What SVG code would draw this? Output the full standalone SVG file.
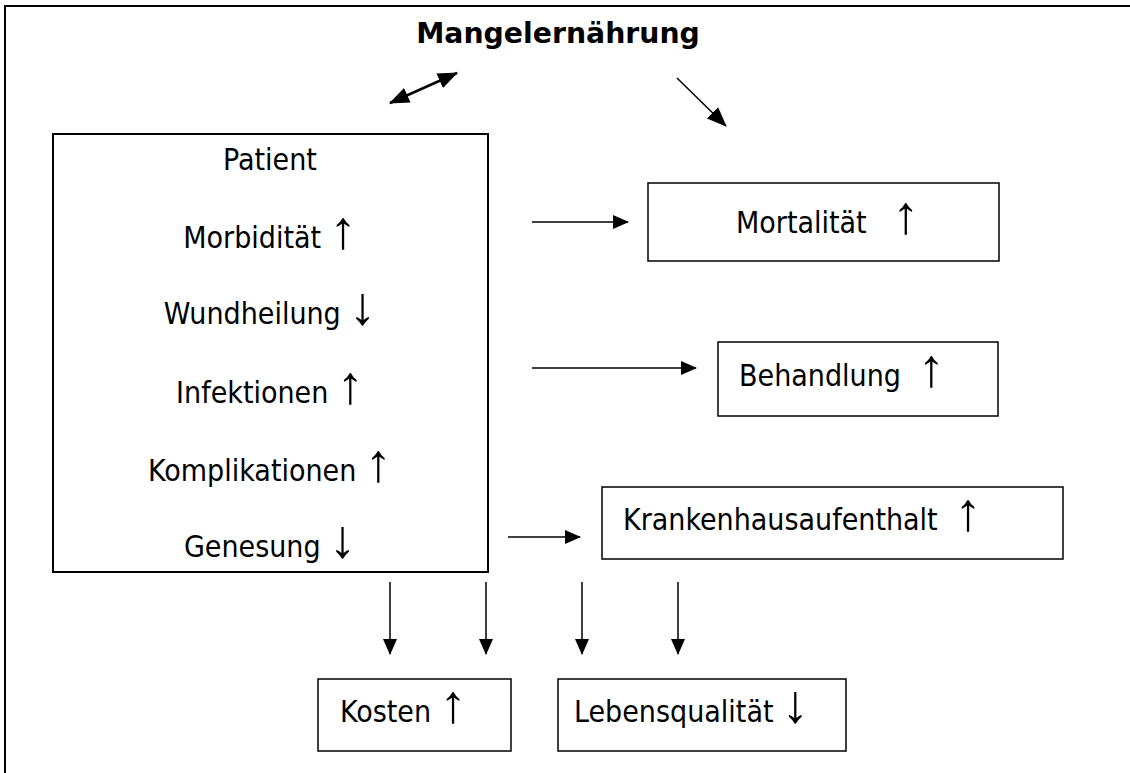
<svg xmlns="http://www.w3.org/2000/svg" width="1130" height="773" viewBox="0 0 1130 773">
<style>
.t{font-family:"DejaVu Sans Condensed","DejaVu Sans",sans-serif;font-stretch:condensed;font-size:30px;fill:#000}
.title{font-family:"DejaVu Sans",sans-serif;font-weight:bold;font-size:28.3px;fill:#000}
.ar{font-family:"Liberation Sans",sans-serif;font-stretch:normal;font-size:54px}
.arl{font-family:"Liberation Serif",serif;font-stretch:normal;font-size:54px}
.box{fill:none;stroke:#000;stroke-width:1.5}
.big{fill:none;stroke:#000;stroke-width:2}
.c{stroke:#000;stroke-width:1.5;fill:none}
.d{stroke:#000;stroke-width:2.5;fill:none}
</style>
<defs>
<marker id="ah" viewBox="0 0 16 16" refX="15" refY="8" markerWidth="16" markerHeight="16" markerUnits="userSpaceOnUse" orient="auto">
<path d="M0,1 L16,8 L0,15 z" fill="#000"/>
</marker>
<marker id="ahb" viewBox="0 0 20 16" refX="19" refY="8" markerWidth="20" markerHeight="16" markerUnits="userSpaceOnUse" orient="auto-start-reverse">
<path d="M0,0 L20,8 L0,16 z" fill="#000"/>
</marker>
</defs>
<rect width="1130" height="773" fill="#fff"/>
<g id="frame">
<line x1="5" y1="6" x2="1130" y2="6" stroke="#000" stroke-width="2"/>
<line x1="5" y1="5" x2="5" y2="773" stroke="#000" stroke-width="2"/>
</g>
<g id="title">
<text class="title" x="558" y="43" text-anchor="middle">Mangelernährung</text>
</g>
<g id="patient">
<rect class="big" x="53" y="134" width="435" height="438"/>
<text class="t" x="270" y="170" text-anchor="middle">Patient</text>
<text class="t" x="270" y="248" text-anchor="middle">Morbidität <tspan class="ar">↑</tspan></text>
<text class="t" x="270" y="324" text-anchor="middle">Wundheilung <tspan class="arl">↓</tspan></text>
<text class="t" x="270" y="403" text-anchor="middle">Infektionen <tspan class="arl">↑</tspan></text>
<text class="t" x="270" y="481" text-anchor="middle">Komplikationen <tspan class="arl">↑</tspan></text>
<text class="t" x="270" y="557" text-anchor="middle">Genesung <tspan class="arl">↓</tspan></text>
</g>
<g id="mortalitaet">
<rect class="box" x="648" y="183" width="351" height="78"/>
<text class="t" x="736" y="233" xml:space="preserve">Mortalität   <tspan class="ar">↑</tspan></text>
</g>
<g id="behandlung">
<rect class="box" x="718" y="342" width="280" height="74"/>
<text class="t" x="739" y="386" xml:space="preserve">Behandlung  <tspan class="ar">↑</tspan></text>
</g>
<g id="krankenhaus">
<rect class="box" x="602" y="487" width="461" height="72"/>
<text class="t" x="623" y="530" xml:space="preserve">Krankenhausaufenthalt  <tspan class="ar">↑</tspan></text>
</g>
<g id="kosten">
<rect class="box" x="318" y="679" width="193" height="72"/>
<text class="t" x="340" y="722">Kosten <tspan class="ar">↑</tspan></text>
</g>
<g id="lebensqualitaet">
<rect class="box" x="558" y="679" width="288" height="72"/>
<text class="t" x="574" y="722">Lebensqualität <tspan class="ar">↓</tspan></text>
</g>
<g id="connectors">
<line class="d" x1="390" y1="103" x2="457" y2="73" marker-start="url(#ahb)" marker-end="url(#ahb)"/>
<line class="c" x1="677" y1="78" x2="726" y2="126" stroke-width="2" marker-end="url(#ahb)"/>
<line class="c" x1="532" y1="222" x2="628" y2="222" marker-end="url(#ah)"/>
<line class="c" x1="532" y1="368" x2="696" y2="368" marker-end="url(#ah)"/>
<line class="c" x1="508" y1="537" x2="580" y2="537" marker-end="url(#ah)"/>
<line class="c" x1="390" y1="582" x2="390" y2="654" marker-end="url(#ah)"/>
<line class="c" x1="486" y1="582" x2="486" y2="654" marker-end="url(#ah)"/>
<line class="c" x1="582" y1="582" x2="582" y2="654" marker-end="url(#ah)"/>
<line class="c" x1="678" y1="582" x2="678" y2="654" marker-end="url(#ah)"/>
</g>
</svg>
